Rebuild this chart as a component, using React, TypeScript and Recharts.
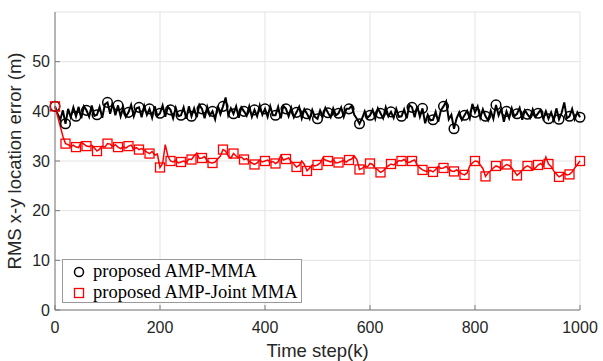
import React from "react";
import {
  LineChart,
  Line,
  XAxis,
  YAxis,
  CartesianGrid,
  Legend,
} from "recharts";

// time step of each sample (every 5th step is kept)
const stepSize = 5;

// RMS error, proposed AMP-MMA (black, circles every 20 steps)
const ampMma = [
  41, 39.5, 38.3, 40.2, 37.5, 40.5, 38.8, 40.8, 39, 40.9, 38.6, 41.0,
  40.2, 38.9, 41.2, 39.1, 39.3, 40.9, 38.7, 41.4, 41.8, 39.5, 41.6, 39.2,
  41.2, 39.0, 40.8, 38.9, 39.8, 41.3, 39.0, 40.6, 40.8, 38.8, 41.1, 39.3,
  40.5, 38.7, 41.0, 39.1, 39.6, 41.2, 38.9, 40.9, 40.3, 38.6, 40.7, 39.0,
  39.2, 40.8, 38.5, 41.0, 39.0, 40.6, 38.8, 41.3, 40.5, 38.6, 40.9, 39.2,
  40.0, 38.4, 41.1, 39.4, 41.0, 42.8, 39.2, 40.6, 39.5, 41.0, 38.7, 40.8,
  40.0, 39.1, 41.0, 38.9, 40.3, 39.0, 41.2, 39.3, 40.5, 38.9, 41.0, 39.2,
  39.2, 40.9, 38.6, 41.1, 40.5, 39.0, 40.7, 38.8, 39.8, 40.9, 38.6, 40.4,
  39.5, 38.5, 40.3, 38.9, 38.5, 40.2, 39.0, 40.7, 39.7, 38.8, 40.6, 39.2,
  39.6, 40.8, 38.9, 40.5, 40.5, 41.1, 39.3, 38.5, 37.5, 38.6, 40.0, 38.7,
  39.2, 40.3, 38.5, 40.6, 39.6, 38.6, 40.8, 39.0, 39.9, 38.7, 40.5, 38.9,
  39.0, 40.4, 38.6, 41.3, 40.8, 38.8, 41.0, 38.9, 40.6, 37.6, 39.3, 38.2,
  38.3, 39.9, 37.9, 40.2, 41.0, 42.0, 38.4, 39.3, 36.5, 38.6, 39.8, 38.3,
  39.2, 40.1, 38.6, 41.5, 39.8, 41.0, 38.7, 40.4, 39.0, 38.2, 40.1, 38.5,
  41.3, 39.2, 40.5, 37.9, 40.0, 38.6, 40.6, 39.0, 39.5, 40.7, 38.3, 40.2,
  39.4, 38.7, 40.4, 38.9, 39.6, 40.3, 38.5, 40.0, 38.5, 39.8, 38.2, 40.6,
  38.4, 39.7, 41.8, 38.6, 39.0, 40.5, 38.4, 39.8, 38.8,
];

// RMS error, proposed AMP-Joint MMA (red, squares every 20 steps)
const ampJointMma = [
  41, 39, 37, 35, 33.5, 33.3, 32.9, 33.2, 32.8, 32.7, 33.8, 33.4,
  33.0, 32.9, 33.2, 32.6, 32.0, 32.4, 33.0, 32.8, 33.5, 33.4, 32.9, 33.3,
  32.8, 32.5, 32.9, 32.6, 33.0, 33.2, 32.4, 32.7, 32.3, 32.5, 32.2, 31.8,
  31.5, 31.9, 31.2, 31.4, 28.7, 29.5, 33.3, 31.0, 30.0, 29.8, 30.1, 29.6,
  29.8, 30.0, 29.7, 30.4, 30.3, 31.0, 31.6, 30.5, 30.6, 30.9, 30.0, 29.7,
  29.6, 29.8, 30.4, 31.0, 32.3, 32.0, 31.0, 30.6, 31.5, 31.0, 30.6, 30.8,
  30.3, 30.5, 29.9, 29.6, 29.3, 29.6, 30.2, 29.8, 30.0, 30.2, 29.7, 29.9,
  29.5, 29.8, 31.1, 30.2, 30.4, 30.6, 29.9, 29.4, 28.8, 29.1, 30.0, 29.3,
  28.0, 28.6, 29.2, 29.0, 29.2, 29.6, 30.6, 30.2, 30.0, 29.8, 30.2, 29.6,
  29.7, 29.9, 30.1, 29.8, 30.2, 30.4, 31.0, 30.3, 28.3, 28.5, 29.0, 28.8,
  29.5, 29.3, 28.5, 28.2, 27.7, 28.0, 28.6, 29.0, 29.4, 29.2, 29.6, 30.1,
  30.0, 30.3, 29.8, 29.7, 30.0, 30.2, 29.2, 28.6, 28.2, 28.0, 27.9, 28.1,
  27.8, 28.3, 28.9, 28.5, 28.6, 28.9, 28.4, 28.0, 27.9, 28.2, 27.8, 27.4,
  27.2, 27.6, 29.0, 29.6, 30.0, 29.9, 29.2, 28.5, 26.9, 27.6, 28.1, 28.6,
  29.0, 28.8, 28.4, 28.9, 29.3, 29.1, 28.6, 27.9, 27.1, 27.6, 28.2, 28.7,
  29.0, 28.7, 28.2, 28.6, 29.2, 29.5, 29.0, 30.8, 29.4, 28.9, 28.0, 27.4,
  26.8, 27.1, 27.6, 27.2, 27.3, 27.8, 28.6, 29.3, 30.0,
];

const xTicks = [0, 200, 400, 600, 800, 1000];
const yTicks = [0, 10, 20, 30, 40, 50];

const data = ampMma.map((v, i) => ({
  step: i * stepSize,
  mma: v,
  joint: ampJointMma[i],
}));

const markerEvery = 4;

const tickStyle = {
  fontFamily: "Liberation Sans, Arial, sans-serif",
  fontSize: 16,
  fill: "#262626",
};

const labelStyle = { ...tickStyle, fontSize: 18.5 };

const CircleDot = (props: any) => {
  const { cx, cy, index } = props;
  if (index % markerEvery !== 0) return <g key={`c-${index}`} />;
  return (
    <circle
      key={`c-${index}`}
      cx={cx}
      cy={cy}
      r={4.8}
      fill="none"
      stroke="#000"
      strokeWidth={1.5}
    />
  );
};

const SquareDot = (props: any) => {
  const { cx, cy, index } = props;
  if (index % markerEvery !== 0) return <g key={`s-${index}`} />;
  return (
    <rect
      key={`s-${index}`}
      x={cx - 4.5}
      y={cy - 4.5}
      width={9}
      height={9}
      fill="none"
      stroke="#ff0000"
      strokeWidth={1.3}
    />
  );
};

const legendFont = {
  fontFamily: "Liberation Serif, 'Times New Roman', serif",
  fontSize: 18.5,
  color: "#000",
};

const LegendBox = () => (
  <div
    style={{
      width: 240,
      height: 44,
      boxSizing: "border-box",
      border: "1px solid #999",
      background: "#fff",
      padding: "1px 0 0 9px",
      lineHeight: "21px",
      ...legendFont,
    }}
  >
    <div style={{ display: "flex", alignItems: "center", height: 21 }}>
      <svg width={14} height={14} style={{ marginRight: 7 }}>
        <circle cx={7} cy={7} r={4.5} fill="none" stroke="#000" strokeWidth={1.5} />
      </svg>
      <span>proposed AMP-MMA</span>
    </div>
    <div style={{ display: "flex", alignItems: "center", height: 21 }}>
      <svg width={14} height={14} style={{ marginRight: 7 }}>
        <rect x={2.5} y={2.5} width={9} height={9} fill="none" stroke="#ff0000" strokeWidth={1.3} />
      </svg>
      <span>proposed AMP-Joint MMA</span>
    </div>
  </div>
);

export default function App() {
  return (
    <div style={{ width: 603, height: 361, background: "#fff" }}>
      <style>{"body{margin:0;}"}</style>
      <LineChart
        width={603}
        height={361}
        data={data}
        margin={{ top: 12, right: 23, left: 0, bottom: 0 }}
      >
        <CartesianGrid stroke="#e3e3e3" strokeWidth={1} />
        <XAxis
          dataKey="step"
          type="number"
          domain={[0, 1000]}
          ticks={xTicks}
          height={51}
          tick={tickStyle}
          tickSize={-5}
          tickMargin={17}
          stroke="#7a7a7a"
          label={{
            value: "Time step(k)",
            position: "insideBottom",
            offset: 4,
            style: labelStyle,
          }}
        />
        <XAxis
          xAxisId="top"
          orientation="top"
          dataKey="step"
          type="number"
          domain={[0, 1000]}
          ticks={xTicks}
          height={0}
          tick={false}
          tickSize={-5}
          stroke="#7a7a7a"
        />
        <YAxis
          type="number"
          domain={[0, 60]}
          ticks={yTicks}
          width={55}
          tick={tickStyle}
          tickSize={-5}
          tickMargin={10}
          stroke="#7a7a7a"
          label={{
            value: "RMS x-y location error (m)",
            angle: -90,
            position: "insideLeft",
            offset: 14,
            style: { ...labelStyle, textAnchor: "middle" },
          }}
        />
        <YAxis
          yAxisId="right"
          orientation="right"
          type="number"
          domain={[0, 60]}
          ticks={yTicks}
          width={0}
          tick={false}
          tickSize={-5}
          stroke="#7a7a7a"
        />
        <Legend
          layout="horizontal"
          verticalAlign="middle"
          align="center"
          wrapperStyle={{ left: 62, top: 259, width: 240, height: 44 }}
          content={() => <LegendBox />}
        />
        <Line
          type="linear"
          dataKey="mma"
          stroke="#000"
          strokeWidth={2}
          dot={CircleDot}
          activeDot={false}
          isAnimationActive={false}
        />
        <Line
          type="linear"
          dataKey="joint"
          stroke="#ff0000"
          strokeWidth={1.5}
          dot={SquareDot}
          activeDot={false}
          isAnimationActive={false}
        />
      </LineChart>
    </div>
  );
}
